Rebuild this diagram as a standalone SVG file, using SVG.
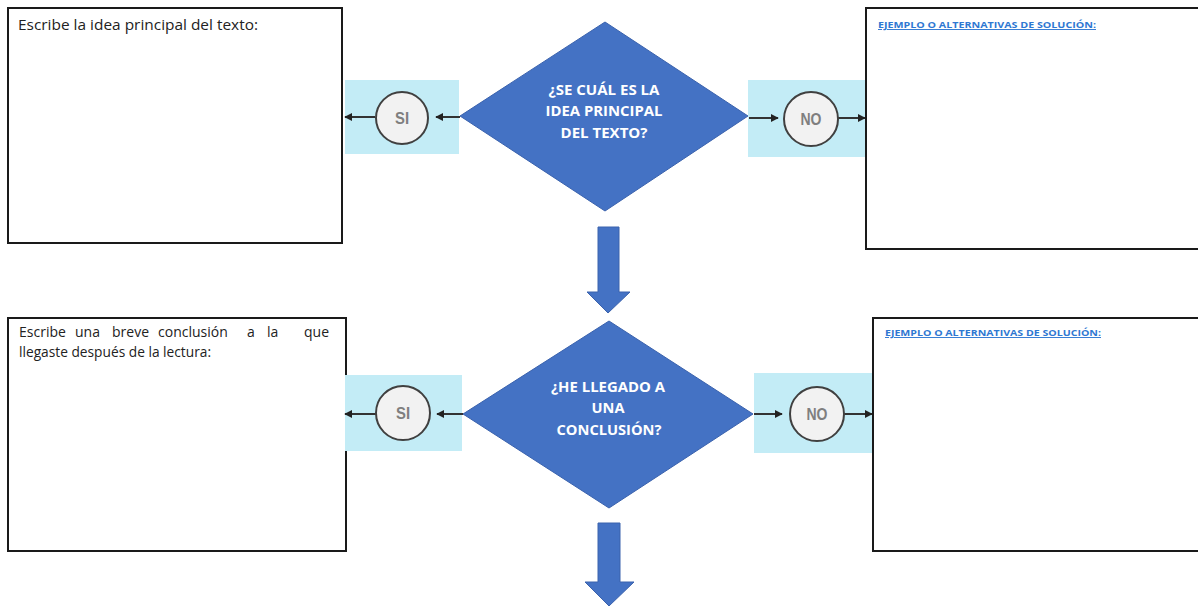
<svg xmlns="http://www.w3.org/2000/svg" width="1198" height="606" viewBox="0 0 1198 606">
<style>
.box{fill:#fff;stroke:#1a1a1a;stroke-width:2}
.band{fill:#c3ecf6}
.dia{fill:#4472c4;stroke:#3a62ad;stroke-width:1}
.circ{fill:#f2f2f2;stroke:#404040;stroke-width:2}
.lbl{font-family:"Liberation Sans",Arial,sans-serif;font-weight:bold;font-size:16px;fill:#7f7f7f;text-anchor:middle}
.dtx{font-family:"Open Sans","Liberation Sans",sans-serif;font-weight:bold;font-size:14.5px;fill:#fff;text-anchor:middle}
.btx{font-family:"Open Sans","Liberation Sans",sans-serif;font-size:14px;fill:#222}
.hdr{font-family:"Open Sans","Liberation Sans",sans-serif;font-weight:bold;font-size:9.5px;fill:#2f78d2;text-decoration:underline}
.con{stroke:#333;stroke-width:2;fill:none}
.big{fill:#4472c4;stroke:#3a62ad;stroke-width:1}
</style>
<defs>
<marker id="ah" viewBox="0 0 10 10" refX="9" refY="5" markerWidth="4" markerHeight="4" orient="auto">
<path d="M0,0 L10,5 L0,10 Z" fill="#222"/>
</marker>
</defs>

<g id="box-idea">
<rect class="box" x="8" y="8" width="334" height="235"/>
<text class="btx" x="18" y="30" textLength="240" lengthAdjust="spacingAndGlyphs">Escribe la idea principal del texto:</text>
</g>
<g id="box-ejemplo1">
<rect class="box" x="866" y="8" width="340" height="241"/>
<text class="hdr" x="878" y="28" textLength="218" lengthAdjust="spacingAndGlyphs">EJEMPLO O ALTERNATIVAS DE SOLUCIÓN:</text>
</g>
<g id="box-conclusion">
<rect class="box" x="8" y="318" width="338" height="233"/>
<text class="btx" y="337"><tspan x="19">Escribe</tspan><tspan x="75">una</tspan><tspan x="112">breve</tspan><tspan x="158">conclusión</tspan><tspan x="247">a</tspan><tspan x="267">la</tspan><tspan x="304">que</tspan></text>
<text class="btx" x="19" y="357" textLength="192" lengthAdjust="spacingAndGlyphs">llegaste después de la lectura:</text>
</g>
<g id="box-ejemplo2">
<rect class="box" x="873" y="318" width="333" height="233"/>
<text class="hdr" x="885" y="336" textLength="216" lengthAdjust="spacingAndGlyphs">EJEMPLO O ALTERNATIVAS DE SOLUCIÓN:</text>
</g>

<g id="band-si1"><rect class="band" x="345" y="80" width="114" height="74"/></g>
<g id="band-no1"><rect class="band" x="748" y="80" width="117" height="77"/></g>
<g id="band-si2"><rect class="band" x="345" y="375" width="117" height="76"/></g>
<g id="band-no2"><rect class="band" x="754" y="373" width="118" height="80"/></g>

<g id="connectors">
<line class="con" x1="460" y1="117" x2="436" y2="117" marker-end="url(#ah)"/>
<line class="con" x1="375" y1="117" x2="345" y2="117" marker-end="url(#ah)"/>
<line class="con" x1="749" y1="118" x2="778" y2="118" marker-end="url(#ah)"/>
<line class="con" x1="838" y1="118" x2="865" y2="118" marker-end="url(#ah)"/>
<line class="con" x1="463" y1="414" x2="437" y2="414" marker-end="url(#ah)"/>
<line class="con" x1="376" y1="414" x2="345" y2="414" marker-end="url(#ah)"/>
<line class="con" x1="754" y1="414" x2="782" y2="414" marker-end="url(#ah)"/>
<line class="con" x1="844" y1="414" x2="872" y2="414" marker-end="url(#ah)"/>
<path class="big" d="M598,227 H619 V292 H630 L608,313 L587,292 H598 Z"/>
<path class="big" d="M598,523 H620 V582 H634 L609,606 L585,582 H598 Z"/>
</g>

<g id="q1">
<polygon class="dia" points="605,22 748,116 605,211 460,116"/>
<text class="dtx" x="604" y="95" textLength="111" lengthAdjust="spacingAndGlyphs">¿SE CUÁL ES LA</text>
<text class="dtx" x="604" y="116" textLength="117" lengthAdjust="spacingAndGlyphs">IDEA PRINCIPAL</text>
<text class="dtx" x="604" y="138" textLength="87" lengthAdjust="spacingAndGlyphs">DEL TEXTO?</text>
</g>
<g id="q2">
<polygon class="dia" points="609,321 753,414 609,508 463,414"/>
<text class="dtx" x="608" y="392" textLength="114" lengthAdjust="spacingAndGlyphs">¿HE LLEGADO A</text>
<text class="dtx" x="608" y="413" textLength="33" lengthAdjust="spacingAndGlyphs">UNA</text>
<text class="dtx" x="609" y="435" textLength="105" lengthAdjust="spacingAndGlyphs">CONCLUSIÓN?</text>
</g>

<g id="si1"><circle class="circ" cx="402" cy="118" r="26"/><text class="lbl" x="402" y="124" textLength="14" lengthAdjust="spacingAndGlyphs">SI</text></g>
<g id="no1"><circle class="circ" cx="811" cy="119" r="27"/><text class="lbl" x="811" y="125" textLength="21" lengthAdjust="spacingAndGlyphs">NO</text></g>
<g id="si2"><circle class="circ" cx="403" cy="413" r="27"/><text class="lbl" x="403" y="419" textLength="14" lengthAdjust="spacingAndGlyphs">SI</text></g>
<g id="no2"><circle class="circ" cx="817" cy="414" r="27"/><text class="lbl" x="817" y="420" textLength="21" lengthAdjust="spacingAndGlyphs">NO</text></g>
</svg>
